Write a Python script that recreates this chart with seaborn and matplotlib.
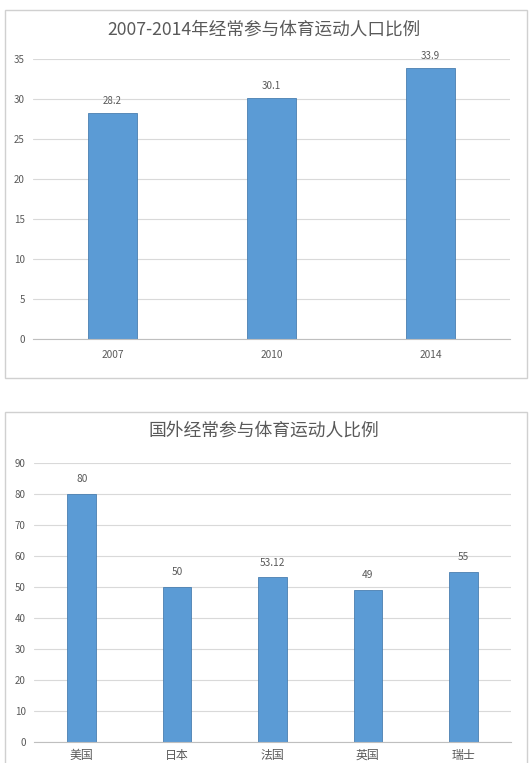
import numpy as np
import pandas as pd
import matplotlib
matplotlib.use('Agg')
import matplotlib.pyplot as plt
from matplotlib.patches import Rectangle
import seaborn as sns

sns.set_style('white')
plt.rcParams['font.family'] = ['Noto Sans CJK SC', 'DejaVu Sans']

# data
years = ['2007', '2010', '2014']
year_values = [28.2, 30.1, 33.9]
countries = ['美国', '日本', '法国', '英国', '瑞士']
country_values = [80, 50, 53.12, 49, 55]
country_labels = ['80', '50', '53.12', '49', '55']

title_top = '2007-2014年经常参与体育运动人口比例'
title_bottom = '国外经常参与体育运动人比例'

bar_color = '#5B9BD5'
edge_color = '#4A7FB0'
text_color = '#595959'
grid_color = '#D9D9D9'

W, H = 529, 763
fig = plt.figure(figsize=(W / 100, H / 100), dpi=100)
fig.patch.set_facecolor('white')

def fx(px):
    return px / W

def fy(py):
    return 1 - py / H

# panel borders
fig.patches.append(Rectangle((fx(5), fy(378)), fx(522), (378 - 10) / H,
                             transform=fig.transFigure, fill=False,
                             edgecolor='#D0D0D0', linewidth=1))
fig.patches.append(Rectangle((fx(5), fy(770)), fx(522), (770 - 412) / H,
                             transform=fig.transFigure, fill=False,
                             edgecolor='#D0D0D0', linewidth=1))


def style_axes(ax, ymax, step):
    ax.set_ylim(0, ymax)
    ax.set_yticks(np.arange(0, ymax + 1, step))
    ax.yaxis.grid(True, color=grid_color, linewidth=0.8)
    ax.set_axisbelow(True)
    for s in ['left', 'right', 'top']:
        ax.spines[s].set_visible(False)
    ax.spines['bottom'].set_color('#BFBFBF')
    ax.tick_params(axis='both', length=0, labelsize=7, labelcolor=text_color, pad=6)
    ax.set_xlabel('')
    ax.set_ylabel('')


# top chart
ax1 = fig.add_axes([fx(33), fy(339), fx(510 - 33), (339 - 59) / H])
df1 = pd.DataFrame({'year': years, 'value': year_values})
sns.barplot(data=df1, x='year', y='value', color=bar_color, width=0.31,
            saturation=1, edgecolor=edge_color, linewidth=0.6, ax=ax1)
ax1.set_xlim(-0.5, 2.5)
style_axes(ax1, 35, 5)
ax1.tick_params(axis='x', labelsize=7.3, pad=8)
ax1.bar_label(ax1.containers[0], labels=[f'{v}' for v in year_values],
              padding=5, fontsize=7, color=text_color)
fig.text(fx(264), fy(30), title_top, ha='center', va='center',
         fontsize=12.7, color=text_color)

# bottom chart
ax2 = fig.add_axes([fx(34), fy(742), fx(511 - 34), (742 - 463) / H])
df2 = pd.DataFrame({'country': countries, 'value': country_values})
sns.barplot(data=df2, x='country', y='value', color=bar_color, width=0.3,
            saturation=1, edgecolor=edge_color, linewidth=0.6, ax=ax2)
ax2.set_xlim(-0.5, 4.5)
style_axes(ax2, 90, 10)
ax2.tick_params(axis='x', labelsize=8.6, pad=5)
ax2.bar_label(ax2.containers[0], labels=country_labels,
              padding=7, fontsize=7.3, color=text_color)
fig.text(fx(264), fy(431), title_bottom, ha='center', va='center',
         fontsize=12.8, color=text_color)

fig.savefig('out.png', dpi=100, facecolor='white')
